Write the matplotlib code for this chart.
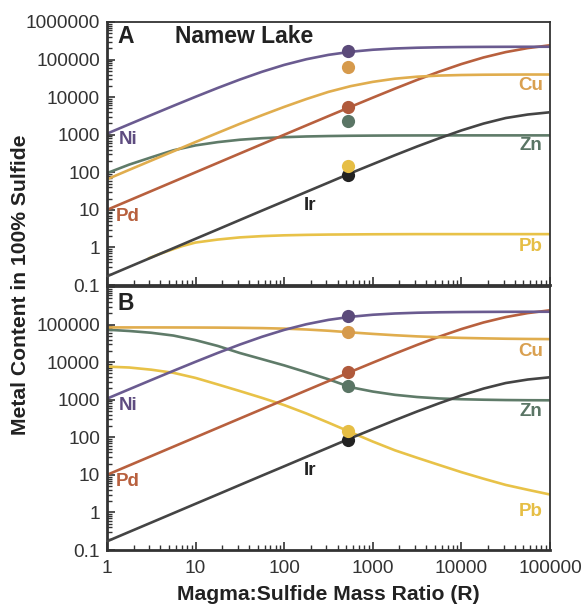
import matplotlib
matplotlib.use("Agg")
import matplotlib.pyplot as plt
from matplotlib.ticker import LogLocator, NullFormatter

# magma:sulfide ratio where the curves were read (quarter decades)
R = [1, 1.78, 3.16, 5.62, 10, 17.8, 31.6, 56.2, 100, 178, 316, 562,
     1000, 1778, 3162, 5623, 10000, 17783, 31623, 56234, 100000]

# curves shared by both panels
ni = [1068, 1894, 3340, 5870, 10230, 17580, 29380, 47340, 72100, 102000, 133400, 161200,
      182600, 197300, 206600, 212300, 215600, 217500, 218600, 219200, 219500]
pd = [10, 17.8, 31.6, 56.2, 100, 178, 316, 561, 997, 1770, 3130, 5520,
      9690, 16830, 28740, 47740, 75960, 113800, 158000, 202300, 240000]
ir = [0.17, 0.303, 0.537, 0.955, 1.70, 3.02, 5.37, 9.55, 16.9, 30.1, 53.2, 94.6,
      164.5, 285, 486, 805, 1300, 1980, 2780, 3450, 3960]

# panel A
cu_a = [65, 116, 205, 362, 640, 1120, 1950, 3300, 5500, 8900, 13800, 19600,
        25500, 31000, 35000, 37500, 38800, 39500, 39800, 40000, 40000]
zn_a = [95, 160, 250, 385, 520, 635, 735, 808, 860, 898, 922, 938,
        947, 953, 956, 958, 960, 960, 960, 960, 960]
R_pb_a = [3, 4, 5, 7, 10, 17.8, 31.6, 56.2, 100, 178, 316, 1000, 3162, 10000, 31623, 100000]
pb_a = [0.52, 0.68, 0.82, 1.08, 1.35, 1.62, 1.85, 2.0, 2.1, 2.16, 2.2, 2.24, 2.26, 2.26, 2.26, 2.26]

# panel B
cu_b = [84000, 84000, 84000, 83800, 83500, 83000, 82000, 80500, 78000, 74000, 68500, 62000,
        56500, 52000, 48500, 46000, 44200, 43000, 42000, 41400, 41000]
zn_b = [73000, 67500, 60500, 51000, 38500, 27000, 17500, 12000, 8200, 5400, 3500, 2150,
        1650, 1350, 1180, 1080, 1030, 1000, 980, 970, 965]
pb_b = [7600, 7200, 6300, 5200, 3800, 2550, 1700, 1120, 720, 430, 245, 137,
        77, 45, 28.5, 18.3, 11.8, 7.9, 5.4, 4.0, 3.0]

# measured Namew Lake compositions
R_dot = 520
dots = {"Ni": 168000, "Cu": 62000, "Pd": 5500, "Zn": 2250, "Ir": 85, "Pb": 145}

line_col = {"Ni": "#6a5b90", "Cu": "#e0ad4e", "Pd": "#b8603e",
            "Zn": "#5f7b69", "Ir": "#444444", "Pb": "#e8c248"}
dot_col = {"Ni": "#5b4a7a", "Cu": "#d69a4c", "Pd": "#b05a3c",
           "Zn": "#5a7565", "Ir": "#222222", "Pb": "#e6be45"}
lab_col = {"Ni": "#5e4c80", "Cu": "#d9a050", "Pd": "#b8603e",
           "Zn": "#5a7565", "Ir": "#222222", "Pb": "#e6be45"}

yticks = [0.1, 1, 10, 100, 1000, 10000, 100000, 1000000]
ytick_labels = ["0.1", "1", "10", "100", "1000", "10000", "100000", "1000000"]
xticks = [1, 10, 100, 1000, 10000, 100000]
xtick_labels = ["1", "10", "100", "1000", "10000", "100000"]

plt.rcParams['font.family'] = ['Liberation Sans', 'DejaVu Sans']


def style_axis(ax, show_x_labels, top_label):
    ax.set_xscale("log")
    ax.set_yscale("log")
    ax.set_xlim(1, 100000)
    ax.set_ylim(0.1, 1000000)
    ax.set_yticks(yticks)
    labels = list(ytick_labels)
    if not top_label:
        labels[-1] = ""
    ax.set_yticklabels(labels)
    ax.set_xticks(xticks)
    if show_x_labels:
        ax.set_xticklabels(xtick_labels)
    else:
        ax.set_xticklabels([])
    ax.xaxis.set_minor_locator(LogLocator(base=10, subs=range(2, 10), numticks=20))
    ax.yaxis.set_minor_locator(LogLocator(base=10, subs=range(2, 10), numticks=20))
    ax.xaxis.set_minor_formatter(NullFormatter())
    ax.yaxis.set_minor_formatter(NullFormatter())
    ax.tick_params(which="both", direction="in", top=False, right=False,
                   colors="#333333", labelsize=13.7)
    ax.tick_params(which="major", length=6, width=1.2)
    ax.tick_params(which="minor", length=3.5, width=1.0)
    ax.tick_params(axis="y", pad=5)
    ax.tick_params(axis="x", pad=7)
    for s in ax.spines.values():
        s.set_color("#333333")
        s.set_linewidth(1.3)
    ax.spines["left"].set_linewidth(2)
    ax.spines["bottom"].set_linewidth(2)


def draw_panel(ax, cu, zn, R_pb, pb):
    lw = 1.9
    ax.plot(R, ir, color=line_col["Ir"], lw=lw, zorder=3)
    ax.plot(R_pb, pb, color=line_col["Pb"], lw=lw, zorder=2)
    ax.plot(R, zn, color=line_col["Zn"], lw=lw, zorder=2)
    ax.plot(R, pd, color=line_col["Pd"], lw=lw, zorder=2)
    ax.plot(R, cu, color=line_col["Cu"], lw=lw, zorder=2)
    ax.plot(R, ni, color=line_col["Ni"], lw=lw, zorder=2)
    for el in ["Ni", "Cu", "Pd", "Zn", "Ir", "Pb"]:
        ax.plot([R_dot], [dots[el]], "o", color=dot_col[el], ms=9.5, mec="none", zorder=4)


def label_panel(ax, pos):
    for el, (x, y) in pos.items():
        ax.text(x, y, el, transform=ax.transAxes, ha="center", va="center",
                fontsize=13.5, fontweight="bold", color=lab_col[el])


def main():
    fig = plt.figure(figsize=(5.82, 6.06), dpi=100)
    ax_a = fig.add_axes([0.1838, 0.5297, 0.7612, 0.434])
    ax_b = fig.add_axes([0.1838, 0.0924, 0.7612, 0.434])

    draw_panel(ax_a, cu_a, zn_a, R_pb_a, pb_a)
    draw_panel(ax_b, cu_b, zn_b, R, pb_b)
    style_axis(ax_a, False, True)
    style_axis(ax_b, True, False)

    label_panel(ax_a, {"Ni": (0.047, 0.555), "Pd": (0.047, 0.259), "Ir": (0.458, 0.304),
                       "Cu": (0.957, 0.760), "Zn": (0.957, 0.529), "Pb": (0.957, 0.148)})
    label_panel(ax_b, {"Ni": (0.047, 0.551), "Pd": (0.047, 0.259), "Ir": (0.458, 0.304),
                       "Cu": (0.957, 0.753), "Zn": (0.957, 0.525), "Pb": (0.957, 0.148)})

    ax_a.text(0.023, 0.943, "A", transform=ax_a.transAxes, ha="left", va="center",
              fontsize=16.5, fontweight="bold", color="#222222")
    ax_a.text(0.153, 0.943, "Namew Lake", transform=ax_a.transAxes, ha="left", va="center",
              fontsize=16.5, fontweight="bold", color="#222222")
    ax_b.text(0.023, 0.939, "B", transform=ax_b.transAxes, ha="left", va="center",
              fontsize=16.5, fontweight="bold", color="#222222")

    ax_b.set_xlabel("Magma:Sulfide Mass Ratio (R)", fontsize=15.2, fontweight="bold",
                    color="#222222", labelpad=6)
    fig.text(0.035, 0.53, "Metal Content in 100% Sulfide", rotation=90, ha="center",
             va="center", fontsize=15.2, fontweight="bold", color="#222222")

    plt.savefig("out.png", dpi=100)


if __name__ == "__main__":
    main()
